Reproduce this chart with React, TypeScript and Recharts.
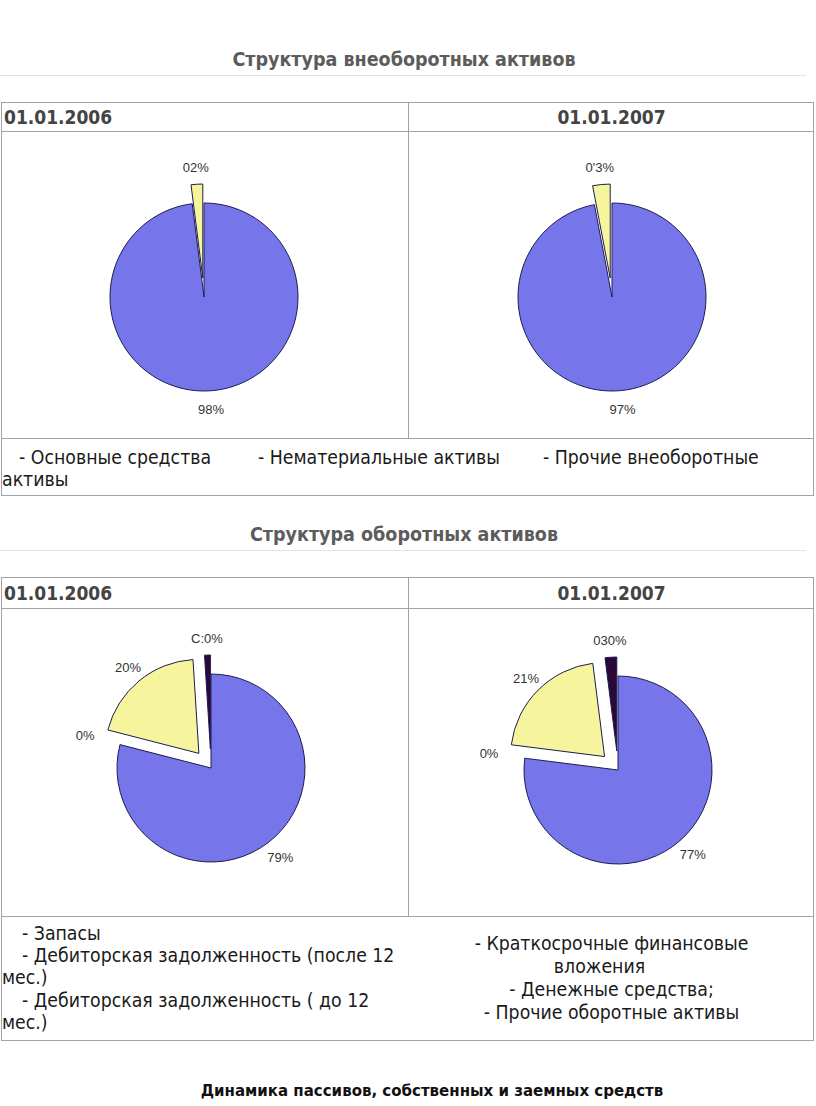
import React from 'react';
import { PieChart, Pie, Cell } from 'recharts';

// внеоборотные активы
const fixedCategories = ['Основные средства', 'Нематериальные активы', 'Прочие внеоборотные активы'];
const fixed2006 = [98, 0, 2];
const fixed2007 = [97, 0, 3];
const fixedLabels2006 = ['98%', '', '02%'];
const fixedLabels2007 = ['97%', '', '0\'3%'];
const fixedColors = ['#7676ea', '#993366', '#f6f59e'];
const fixedExploded = [false, true, true];

// оборотные активы
const currentCategories = [
  'Запасы',
  'Дебиторская задолженность (после 12 мес.)',
  'Дебиторская задолженность ( до 12 мес.)',
  'Краткосрочные финансовые вложения',
  'Денежные средства',
  'Прочие оборотные активы',
];
const current2006 = [79, 0, 20, 0, 1, 0];
const current2007 = [77, 0, 21, 0, 2, 0];
const currentLabels2006 = ['79%', '0%', '20%', '', 'C:0%', ''];
const currentLabels2007 = ['77%', '0%', '21%', '', '030%', ''];
const currentColors = ['#7676ea', '#993366', '#f6f59e', '#ccffff', '#2a0838', '#ff8080'];
const currentExploded = [false, true, true, true, true, true];

const dateHeaders = ['01.01.2006', '01.01.2007'];

const RAD = Math.PI / 180;
const R = 94;
const EXPLODE = 19;
const EDGE = '#1c1c52';
const NO_MARGIN = { top: 0, right: 0, bottom: 0, left: 0 };

interface ExplodedPieProps {
  categories: string[];
  values: number[];
  labels: string[];
  colors: string[];
  exploded: boolean[];
  width: number;
  height: number;
  cx: number;
  cy: number;
}

function ExplodedPie({ categories, values, labels, colors, exploded, width, height, cx, cy }: ExplodedPieProps) {
  const data = categories.map((name, i) => ({ name, value: values[i] }));
  const total = values.reduce((a, b) => a + b, 0);

  // середины секторов (по часовой от 12 часов)
  let acc = 0;
  const mids = values.map((v) => {
    const m = 90 - (360 * (acc + v / 2)) / total;
    acc += v;
    return m;
  });

  const renderLabel = (p: any) => {
    const text = labels[p.index];
    if (!text) return null;
    const r = p.outerRadius + (exploded[p.index] ? EXPLODE + 17 : 19);
    const x = p.cx + r * Math.cos(-p.midAngle * RAD);
    const y = p.cy + r * Math.sin(-p.midAngle * RAD);
    return (
      <text
        key={`l${p.index}`}
        x={x}
        y={y}
        textAnchor="middle"
        dominantBaseline="central"
        fontFamily="'Liberation Sans', Arial, sans-serif"
        fontSize={13}
        fill="#333"
      >
        {text}
      </text>
    );
  };

  return (
    <PieChart width={width} height={height} margin={NO_MARGIN}>
      <Pie
        data={data}
        dataKey="value"
        cx={cx}
        cy={cy}
        outerRadius={R}
        startAngle={90}
        endAngle={-270}
        isAnimationActive={false}
        label={renderLabel}
        labelLine={false}
      >
        {data.map((d, i) => (
          <Cell
            key={d.name}
            fill={exploded[i] ? 'none' : colors[i]}
            stroke={exploded[i] ? 'none' : EDGE}
            strokeWidth={1}
          />
        ))}
      </Pie>
      {data.map((d, i) =>
        exploded[i] && d.value > 0 ? (
          <Pie
            key={`x${d.name}`}
            data={data}
            dataKey="value"
            cx={cx + EXPLODE * Math.cos(mids[i] * RAD)}
            cy={cy - EXPLODE * Math.sin(mids[i] * RAD)}
            outerRadius={R}
            startAngle={90}
            endAngle={-270}
            isAnimationActive={false}
          >
            {data.map((e, j) => (
              <Cell
                key={e.name}
                fill={j === i ? colors[j] : 'none'}
                stroke={j === i ? EDGE : 'none'}
                strokeWidth={1}
              />
            ))}
          </Pie>
        ) : null
      )}
    </PieChart>
  );
}

const narrow = "'DejaVu Sans Condensed', sans-serif";
const line = '#a3a3a3';

const abs = (left: number, top: number, extra: React.CSSProperties = {}): React.CSSProperties => ({
  position: 'absolute',
  left,
  top,
  ...extra,
});

function Frame({ top, headBottom, chartBottom, bottom }: { top: number; headBottom: number; chartBottom: number; bottom: number }) {
  return (
    <>
      <div style={abs(1, top, { width: 813, height: bottom - top, border: `1px solid ${line}`, boxSizing: 'border-box' })} />
      <div style={abs(1, headBottom, { width: 813, height: 1, background: line })} />
      <div style={abs(1, chartBottom, { width: 813, height: 1, background: line })} />
      <div style={abs(408, top, { width: 1, height: chartBottom - top, background: line })} />
    </>
  );
}

const headStyle: React.CSSProperties = {
  fontFamily: "'DejaVu Sans Condensed', sans-serif",
  fontWeight: 'bold',
  fontSize: 19,
  color: '#444',
  lineHeight: '22px',
  whiteSpace: 'nowrap',
};

const legendStyle: React.CSSProperties = {
  fontFamily: narrow,
  fontSize: 19.3,
  color: '#1a1a1a',
  lineHeight: '22px',
  whiteSpace: 'nowrap',
};

export default function App() {
  return (
    <div style={{ position: 'absolute', left: 0, top: 0, width: 816, height: 1106, background: '#fff', overflow: 'hidden' }}>
      {/* блок 1 */}
      <div style={abs(0, 49, { ...headStyle, fontSize: 19.5, width: 808, textAlign: 'center', color: '#5c5c5c' })}>
        Структура внеоборотных активов
      </div>
      <div style={abs(0, 75, { width: 806, height: 1, background: '#e2e2e2' })} />
      <Frame top={102} headBottom={131} chartBottom={438} bottom={496} />
      <div style={abs(4, 106, headStyle)}>{dateHeaders[0]}</div>
      <div style={abs(409, 106, { ...headStyle, width: 405, textAlign: 'center' })}>{dateHeaders[1]}</div>
      <div style={abs(0, 132)}>
        <ExplodedPie
          categories={fixedCategories}
          values={fixed2006}
          labels={fixedLabels2006}
          colors={fixedColors}
          exploded={fixedExploded}
          width={407}
          height={305}
          cx={204}
          cy={165}
        />
      </div>
      <div style={abs(409, 132)}>
        <ExplodedPie
          categories={fixedCategories}
          values={fixed2007}
          labels={fixedLabels2007}
          colors={fixedColors}
          exploded={fixedExploded}
          width={405}
          height={305}
          cx={203}
          cy={165}
        />
      </div>
      <div style={abs(19, 447, legendStyle)}>- {fixedCategories[0]}</div>
      <div style={abs(258, 447, legendStyle)}>- {fixedCategories[1]}</div>
      <div style={abs(543, 447, legendStyle)}>- Прочие внеоборотные</div>
      <div style={abs(2, 469, legendStyle)}>активы</div>

      {/* блок 2 */}
      <div style={abs(0, 524, { ...headStyle, fontSize: 19.5, width: 808, textAlign: 'center', color: '#5c5c5c' })}>
        Структура оборотных активов
      </div>
      <div style={abs(0, 550, { width: 806, height: 1, background: '#e2e2e2' })} />
      <Frame top={577} headBottom={608} chartBottom={916} bottom={1041} />
      <div style={abs(4, 582, headStyle)}>{dateHeaders[0]}</div>
      <div style={abs(409, 582, { ...headStyle, width: 405, textAlign: 'center' })}>{dateHeaders[1]}</div>
      <div style={abs(0, 609)}>
        <ExplodedPie
          categories={currentCategories}
          values={current2006}
          labels={currentLabels2006}
          colors={currentColors}
          exploded={currentExploded}
          width={407}
          height={306}
          cx={211}
          cy={159}
        />
      </div>
      <div style={abs(409, 609)}>
        <ExplodedPie
          categories={currentCategories}
          values={current2007}
          labels={currentLabels2007}
          colors={currentColors}
          exploded={currentExploded}
          width={405}
          height={306}
          cx={209}
          cy={161}
        />
      </div>
      <div style={abs(22, 923, legendStyle)}>- {currentCategories[0]}</div>
      <div style={abs(22, 945, legendStyle)}>- Дебиторская задолженность (после 12</div>
      <div style={abs(2, 967, legendStyle)}>мес.)</div>
      <div style={abs(22, 990, legendStyle)}>- Дебиторская задолженность ( до 12</div>
      <div style={abs(2, 1012, legendStyle)}>мес.)</div>
      <div style={abs(409, 933, { ...legendStyle, width: 405, textAlign: 'center' })}>- Краткосрочные финансовые</div>
      <div style={abs(397, 956, { ...legendStyle, width: 405, textAlign: 'center' })}>вложения</div>
      <div style={abs(409, 979, { ...legendStyle, width: 405, textAlign: 'center' })}>- {currentCategories[4]};</div>
      <div style={abs(409, 1002, { ...legendStyle, width: 405, textAlign: 'center' })}>- {currentCategories[5]}</div>

      {/* следующий раздел */}
      <div
        style={abs(0, 1082, {
          width: 864,
          textAlign: 'center',
          fontFamily: "'DejaVu Sans', Verdana, sans-serif",
          fontWeight: 'bold',
          fontSize: 15,
          color: '#111',
          whiteSpace: 'nowrap',
        })}
      >
        Динамика пассивов, собственных и заемных средств
      </div>
    </div>
  );
}
